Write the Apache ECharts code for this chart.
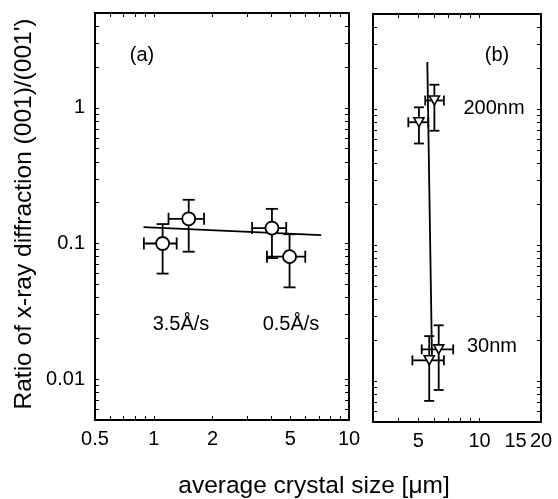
<!DOCTYPE html>
<html>
<head>
<meta charset="utf-8">
<script src="https://cdn.jsdelivr.net/npm/echarts@6/dist/echarts.min.js"></script>
<style>
  html, body { margin: 0; padding: 0; background: #fff; }
  #chart { width: 558px; height: 499px; }
</style>
</head>
<body>
<div id="chart"></div>
<script>
// Panel (a): two deposition rates, average crystal size vs (001)/(001') ratio
const aSize      = [1.11, 1.51, 4.03, 4.96];
const aSizeLow   = [0.89, 1.19, 3.19, 3.80];
const aSizeHigh  = [1.31, 1.81, 4.77, 5.97];
const aRatio     = [0.100, 0.152, 0.130, 0.080];
const aRatioLow  = [0.060, 0.087, 0.078, 0.0475];
const aRatioHigh = [0.139, 0.210, 0.180, 0.117];
const aFitSize   = [0.886, 7.2];
const aFitRatio  = [0.132, 0.1152];

// Panel (b): two film thicknesses (200 nm and 30 nm)
const bSize      = [5.04, 6.0, 6.3, 5.66];
const bSizeLow   = [4.47, 5.41, 5.2, 4.68];
const bSizeHigh  = [5.6, 6.68, 7.42, 6.68];
const bRatio     = [0.80, 1.156, 0.0171, 0.0142];
const bRatioLow  = [0.558, 0.693, 0.0086, 0.00715];
const bRatioHigh = [1.03, 1.51, 0.0257, 0.0214];
const bFitSize   = [5.54, 5.84];
const bFitRatio  = [2.22, 0.0148];

// Tick labels
const aXTickLabels = [0.5, 1, 2, 5, 10];
const bXTickLabels = [5, 10, 15, 20];
const yTickLabels  = [0.01, 0.1, 1];

// Axis ranges
const aXRange = [0.5, 10];
const bXRange = [3, 20];
const yRange  = [0.005, 5];

const FONT = 'Liberation Sans, Arial, Helvetica, sans-serif';

// 1..9 x 10^k tick positions inside a range
function logTicks(lo, hi) {
  const out = [];
  for (let e = -3; e <= 2; e++) {
    for (let m = 1; m <= 9; m++) {
      const v = +(m * Math.pow(10, e)).toPrecision(4);
      if (v >= lo * 0.9999 && v <= hi * 1.0001) out.push(v);
    }
  }
  return out;
}

function rows(xs, ys, xl, xh, yl, yh) {
  return xs.map((x, i) => [x, ys[i], xl[i], xh[i], yl[i], yh[i]]);
}
function pairs(xs, ys) { return xs.map((x, i) => [x, ys[i]]); }

const axisLineStyle = { color: '#000', width: 2 };

function xAxisPair(gridIndex, range, labels) {
  const minor = logTicks(range[0], range[1]);
  const common = {
    type: 'log', logBase: 10, gridIndex, min: range[0], max: range[1],
    axisLine: { show: true, onZero: false, lineStyle: axisLineStyle },
    axisTick: { show: true, inside: true, length: 4, customValues: minor, lineStyle: { color: '#000', width: 1 } },
    splitLine: { show: false }, minorTick: { show: false }
  };
  return [
    Object.assign({}, common, {
      position: 'bottom',
      axisLabel: { show: true, customValues: labels, color: '#000', fontSize: 20, fontFamily: FONT, margin: 9,
                   formatter: v => String(+v.toPrecision(4)) }
    }),
    Object.assign({}, common, { position: 'top', axisLabel: { show: false } })
  ];
}

function yAxisPair(gridIndex, showLabels) {
  const minor = logTicks(yRange[0], yRange[1]);
  const common = {
    type: 'log', logBase: 10, gridIndex, min: yRange[0], max: yRange[1],
    axisLine: { show: true, onZero: false, lineStyle: axisLineStyle },
    axisTick: { show: true, inside: true, length: 4, customValues: minor, lineStyle: { color: '#000', width: 1 } },
    splitLine: { show: false }, minorTick: { show: false }
  };
  return [
    Object.assign({}, common, {
      position: 'left',
      axisLabel: { show: showLabels, customValues: yTickLabels, color: '#000', fontSize: 20, fontFamily: FONT, margin: 10,
                   formatter: v => String(+v.toPrecision(4)) }
    }),
    Object.assign({}, common, { position: 'right', axisLabel: { show: false } })
  ];
}

// Error bars: vertical and horizontal with end caps
function errorBarSeries(xAxisIndex, yAxisIndex, data, cap) {
  return {
    type: 'custom', xAxisIndex, yAxisIndex, data, z: 2, silent: true,
    renderItem: (params, api) => {
      const x = api.value(0), y = api.value(1);
      const c = api.coord([x, y]);
      const top = api.coord([x, api.value(5)]);
      const bot = api.coord([x, api.value(4)]);
      const lft = api.coord([api.value(2), y]);
      const rgt = api.coord([api.value(3), y]);
      const st = { stroke: '#000', lineWidth: 1.8 };
      const h = cap / 2;
      const line = (x1, y1, x2, y2) => ({ type: 'line', shape: { x1, y1, x2, y2 }, style: st });
      return {
        type: 'group',
        children: [
          line(c[0], top[1], c[0], bot[1]),
          line(c[0] - h, top[1], c[0] + h, top[1]),
          line(c[0] - h, bot[1], c[0] + h, bot[1]),
          line(lft[0], c[1], rgt[0], c[1]),
          line(lft[0], c[1] - h, lft[0], c[1] + h),
          line(rgt[0], c[1] - h, rgt[0], c[1] + h)
        ]
      };
    }
  };
}

const chart = echarts.init(document.getElementById('chart'), null, { renderer: 'canvas' });

const textStyle = (text, x, y, size) => ({
  type: 'text',
  style: { text, x, y, font: size + 'px ' + FONT, fill: '#000', align: 'center', verticalAlign: 'middle' }
});

const option = {
  animation: false,
  backgroundColor: '#fff',
  grid: [
    { left: 95, top: 13, width: 254, height: 407 },
    { left: 373, top: 14, width: 168, height: 408 }
  ],
  xAxis: [...xAxisPair(0, aXRange, aXTickLabels), ...xAxisPair(1, bXRange, bXTickLabels)],
  yAxis: [...yAxisPair(0, true), ...yAxisPair(1, false)],
  series: [
    {
      type: 'line', xAxisIndex: 0, yAxisIndex: 0, data: pairs(aFitSize, aFitRatio),
      showSymbol: false, symbol: 'none', lineStyle: { color: '#000', width: 1.6 }, z: 1, silent: true
    },
    errorBarSeries(0, 0, rows(aSize, aRatio, aSizeLow, aSizeHigh, aRatioLow, aRatioHigh), 12),
    {
      type: 'scatter', xAxisIndex: 0, yAxisIndex: 0, data: pairs(aSize, aRatio),
      symbol: 'circle', symbolSize: 13, z: 3, silent: true,
      itemStyle: { color: '#fff', borderColor: '#000', borderWidth: 1.8, opacity: 1 }
    },
    {
      type: 'line', xAxisIndex: 2, yAxisIndex: 2, data: pairs(bFitSize, bFitRatio),
      showSymbol: false, symbol: 'none', lineStyle: { color: '#000', width: 1.8 }, z: 1, silent: true
    },
    errorBarSeries(2, 2, rows(bSize, bRatio, bSizeLow, bSizeHigh, bRatioLow, bRatioHigh), 10),
    {
      type: 'scatter', xAxisIndex: 2, yAxisIndex: 2, data: pairs(bSize, bRatio),
      symbol: 'triangle', symbolRotate: 180, symbolSize: [10, 9], z: 3, silent: true,
      itemStyle: { color: '#fff', borderColor: '#000', borderWidth: 1.6, opacity: 1 }
    }
  ],
  graphic: [
    textStyle('(a)', 142, 55, 20),
    textStyle('(b)', 497, 55, 20),
    textStyle('200nm', 494, 108, 20),
    textStyle('30nm', 492, 346, 20),
    textStyle('3.5Å/s', 181, 324, 20),
    textStyle('0.5Å/s', 291, 324, 20),
    textStyle('average crystal size [μm]', 314, 486, 24.5),
    { type: 'text', x: 24, y: 214, rotation: Math.PI / 2,
      style: { text: "Ratio of x-ray diffraction (001)/(001')", x: 0, y: 0, font: '24.5px ' + FONT, fill: '#000', align: 'center', verticalAlign: 'middle' } }
  ]
};

chart.setOption(option);
</script>
</body>
</html>
